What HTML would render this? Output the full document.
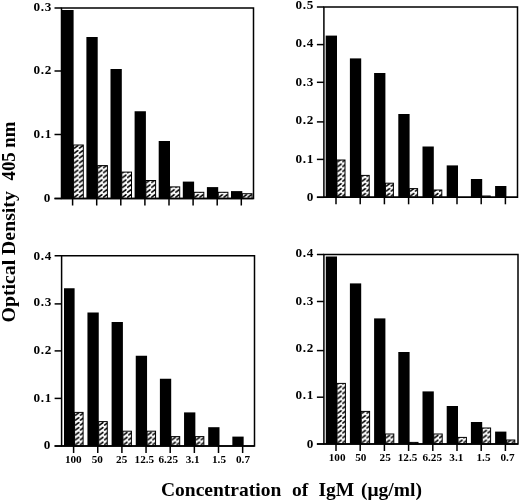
<!DOCTYPE html>
<html><head><meta charset="utf-8"><style>
html,body{margin:0;padding:0;background:#fff;}
body{width:520px;height:503px;overflow:hidden;}
svg{display:block;font-family:"Liberation Serif", serif;will-change:transform;}
</style></head><body>
<svg width="520" height="503" viewBox="0 0 520 503"><defs><pattern id="h1" patternUnits="userSpaceOnUse" x="73.8" y="198" width="5" height="4.9"><path d="M0.7 4.0 L3.9 1.5" stroke="#000" stroke-width="1.6" stroke-linecap="round"/></pattern><pattern id="h2" patternUnits="userSpaceOnUse" x="97.9" y="198" width="5" height="4.9"><path d="M0.7 4.0 L3.9 1.5" stroke="#000" stroke-width="1.6" stroke-linecap="round"/></pattern><pattern id="h3" patternUnits="userSpaceOnUse" x="122" y="198" width="5" height="4.9"><path d="M0.7 4.0 L3.9 1.5" stroke="#000" stroke-width="1.6" stroke-linecap="round"/></pattern><pattern id="h4" patternUnits="userSpaceOnUse" x="146.1" y="198" width="5" height="4.9"><path d="M0.7 4.0 L3.9 1.5" stroke="#000" stroke-width="1.6" stroke-linecap="round"/></pattern><pattern id="h5" patternUnits="userSpaceOnUse" x="170.2" y="198" width="5" height="4.9"><path d="M0.7 4.0 L3.9 1.5" stroke="#000" stroke-width="1.6" stroke-linecap="round"/></pattern><pattern id="h6" patternUnits="userSpaceOnUse" x="194.3" y="198" width="5" height="4.9"><path d="M0.7 4.0 L3.9 1.5" stroke="#000" stroke-width="1.6" stroke-linecap="round"/></pattern><pattern id="h7" patternUnits="userSpaceOnUse" x="218.4" y="198" width="5" height="4.9"><path d="M0.7 4.0 L3.9 1.5" stroke="#000" stroke-width="1.6" stroke-linecap="round"/></pattern><pattern id="h8" patternUnits="userSpaceOnUse" x="242.5" y="198" width="5" height="4.9"><path d="M0.7 4.0 L3.9 1.5" stroke="#000" stroke-width="1.6" stroke-linecap="round"/></pattern><pattern id="h9" patternUnits="userSpaceOnUse" x="337.2" y="196.8" width="5" height="4.9"><path d="M0.7 4.0 L3.9 1.5" stroke="#000" stroke-width="1.6" stroke-linecap="round"/></pattern><pattern id="h10" patternUnits="userSpaceOnUse" x="361.4" y="196.8" width="5" height="4.9"><path d="M0.7 4.0 L3.9 1.5" stroke="#000" stroke-width="1.6" stroke-linecap="round"/></pattern><pattern id="h11" patternUnits="userSpaceOnUse" x="385.6" y="196.8" width="5" height="4.9"><path d="M0.7 4.0 L3.9 1.5" stroke="#000" stroke-width="1.6" stroke-linecap="round"/></pattern><pattern id="h12" patternUnits="userSpaceOnUse" x="409.8" y="196.8" width="5" height="4.9"><path d="M0.7 4.0 L3.9 1.5" stroke="#000" stroke-width="1.6" stroke-linecap="round"/></pattern><pattern id="h13" patternUnits="userSpaceOnUse" x="434" y="196.8" width="5" height="4.9"><path d="M0.7 4.0 L3.9 1.5" stroke="#000" stroke-width="1.6" stroke-linecap="round"/></pattern><pattern id="h14" patternUnits="userSpaceOnUse" x="482.4" y="196.8" width="5" height="4.9"><path d="M0.7 4.0 L3.9 1.5" stroke="#000" stroke-width="1.6" stroke-linecap="round"/></pattern><pattern id="h15" patternUnits="userSpaceOnUse" x="74.8" y="445.5" width="5" height="4.9"><path d="M0.7 4.0 L3.9 1.5" stroke="#000" stroke-width="1.6" stroke-linecap="round"/></pattern><pattern id="h16" patternUnits="userSpaceOnUse" x="98.95" y="445.5" width="5" height="4.9"><path d="M0.7 4.0 L3.9 1.5" stroke="#000" stroke-width="1.6" stroke-linecap="round"/></pattern><pattern id="h17" patternUnits="userSpaceOnUse" x="123.1" y="445.5" width="5" height="4.9"><path d="M0.7 4.0 L3.9 1.5" stroke="#000" stroke-width="1.6" stroke-linecap="round"/></pattern><pattern id="h18" patternUnits="userSpaceOnUse" x="147.25" y="445.5" width="5" height="4.9"><path d="M0.7 4.0 L3.9 1.5" stroke="#000" stroke-width="1.6" stroke-linecap="round"/></pattern><pattern id="h19" patternUnits="userSpaceOnUse" x="171.4" y="445.5" width="5" height="4.9"><path d="M0.7 4.0 L3.9 1.5" stroke="#000" stroke-width="1.6" stroke-linecap="round"/></pattern><pattern id="h20" patternUnits="userSpaceOnUse" x="195.55" y="445.5" width="5" height="4.9"><path d="M0.7 4.0 L3.9 1.5" stroke="#000" stroke-width="1.6" stroke-linecap="round"/></pattern><pattern id="h21" patternUnits="userSpaceOnUse" x="337.2" y="443.5" width="5" height="4.9"><path d="M0.7 4.0 L3.9 1.5" stroke="#000" stroke-width="1.6" stroke-linecap="round"/></pattern><pattern id="h22" patternUnits="userSpaceOnUse" x="361.4" y="443.5" width="5" height="4.9"><path d="M0.7 4.0 L3.9 1.5" stroke="#000" stroke-width="1.6" stroke-linecap="round"/></pattern><pattern id="h23" patternUnits="userSpaceOnUse" x="385.6" y="443.5" width="5" height="4.9"><path d="M0.7 4.0 L3.9 1.5" stroke="#000" stroke-width="1.6" stroke-linecap="round"/></pattern><pattern id="h24" patternUnits="userSpaceOnUse" x="409.8" y="443.5" width="5" height="4.9"><path d="M0.7 4.0 L3.9 1.5" stroke="#000" stroke-width="1.6" stroke-linecap="round"/></pattern><pattern id="h25" patternUnits="userSpaceOnUse" x="434" y="443.5" width="5" height="4.9"><path d="M0.7 4.0 L3.9 1.5" stroke="#000" stroke-width="1.6" stroke-linecap="round"/></pattern><pattern id="h26" patternUnits="userSpaceOnUse" x="458.2" y="443.5" width="5" height="4.9"><path d="M0.7 4.0 L3.9 1.5" stroke="#000" stroke-width="1.6" stroke-linecap="round"/></pattern><pattern id="h27" patternUnits="userSpaceOnUse" x="482.4" y="443.5" width="5" height="4.9"><path d="M0.7 4.0 L3.9 1.5" stroke="#000" stroke-width="1.6" stroke-linecap="round"/></pattern><pattern id="h28" patternUnits="userSpaceOnUse" x="506.6" y="443.5" width="5" height="4.9"><path d="M0.7 4.0 L3.9 1.5" stroke="#000" stroke-width="1.6" stroke-linecap="round"/></pattern></defs><rect width="520" height="503" fill="#fff"/><g><rect x="61" y="10" width="12.6" height="188.5" fill="#000"/><rect x="73.6" y="145" width="9.7" height="53.5" fill="url(#h1)" stroke="#000" stroke-width="1"/><rect x="86.4" y="37" width="11.3" height="161.5" fill="#000"/><rect x="97.7" y="165.6" width="9.7" height="32.9" fill="url(#h2)" stroke="#000" stroke-width="1"/><rect x="110.5" y="69" width="11.3" height="129.5" fill="#000"/><rect x="121.8" y="172.1" width="9.7" height="26.4" fill="url(#h3)" stroke="#000" stroke-width="1"/><rect x="134.6" y="111.25" width="11.3" height="87.25" fill="#000"/><rect x="145.9" y="180.5" width="9.7" height="18" fill="url(#h4)" stroke="#000" stroke-width="1"/><rect x="158.7" y="141" width="11.3" height="57.5" fill="#000"/><rect x="170" y="186.9" width="9.7" height="11.6" fill="url(#h5)" stroke="#000" stroke-width="1"/><rect x="182.8" y="181.6" width="11.3" height="16.9" fill="#000"/><rect x="194.1" y="192.3" width="9.7" height="6.2" fill="url(#h6)" stroke="#000" stroke-width="1"/><rect x="206.9" y="187.1" width="11.3" height="11.4" fill="#000"/><rect x="218.2" y="192.3" width="9.7" height="6.2" fill="url(#h7)" stroke="#000" stroke-width="1"/><rect x="231" y="191.1" width="11.3" height="7.4" fill="#000"/><rect x="242.3" y="193.7" width="9.7" height="4.8" fill="url(#h8)" stroke="#000" stroke-width="1"/><path d="M61.5 198.5 V8 H253.5 V198.5 Z" fill="none" stroke="#000" stroke-width="1.5"/><path d="M54.5 198.5 H253.5" stroke="#000" stroke-width="1.6"/><path d="M54.5 198.5 H61.5" stroke="#000" stroke-width="1.5"/><text x="51" y="201.9" text-anchor="end" font-size="13.2" font-weight="bold" letter-spacing="0.7">0</text><path d="M54.5 134.5 H61.5" stroke="#000" stroke-width="1.5"/><text x="52" y="138.4" text-anchor="end" font-size="13.2" font-weight="bold" letter-spacing="0.7">0.1</text><path d="M54.5 71 H61.5" stroke="#000" stroke-width="1.5"/><text x="52" y="73.5" text-anchor="end" font-size="13.2" font-weight="bold" letter-spacing="0.7">0.2</text><path d="M54.5 8 H61.5" stroke="#000" stroke-width="1.5"/><text x="52" y="10.5" text-anchor="end" font-size="13.2" font-weight="bold" letter-spacing="0.7">0.3</text><path d="M72.6 198.5 V205.5" stroke="#000" stroke-width="1.5"/><path d="M96.7 198.5 V205.5" stroke="#000" stroke-width="1.5"/><path d="M120.8 198.5 V205.5" stroke="#000" stroke-width="1.5"/><path d="M144.9 198.5 V205.5" stroke="#000" stroke-width="1.5"/><path d="M169 198.5 V205.5" stroke="#000" stroke-width="1.5"/><path d="M193.1 198.5 V205.5" stroke="#000" stroke-width="1.5"/><path d="M217.2 198.5 V205.5" stroke="#000" stroke-width="1.5"/><path d="M241.3 198.5 V205.5" stroke="#000" stroke-width="1.5"/></g><g><rect x="325.7" y="35.6" width="11.3" height="161.7" fill="#000"/><rect x="337" y="160" width="8" height="37.3" fill="url(#h9)" stroke="#000" stroke-width="1"/><rect x="349.9" y="58.4" width="11.3" height="138.9" fill="#000"/><rect x="361.2" y="175.4" width="8" height="21.9" fill="url(#h10)" stroke="#000" stroke-width="1"/><rect x="374.1" y="73" width="11.3" height="124.3" fill="#000"/><rect x="385.4" y="183.2" width="8" height="14.1" fill="url(#h11)" stroke="#000" stroke-width="1"/><rect x="398.3" y="114" width="11.3" height="83.3" fill="#000"/><rect x="409.6" y="188.6" width="8" height="8.7" fill="url(#h12)" stroke="#000" stroke-width="1"/><rect x="422.5" y="146.5" width="11.3" height="50.8" fill="#000"/><rect x="433.8" y="190" width="8" height="7.3" fill="url(#h13)" stroke="#000" stroke-width="1"/><rect x="446.7" y="165.4" width="11.3" height="31.9" fill="#000"/><rect x="470.9" y="179" width="11.3" height="18.3" fill="#000"/><rect x="482.2" y="196" width="8" height="1.3" fill="url(#h14)" stroke="#000" stroke-width="1"/><rect x="495.1" y="186" width="11.3" height="11.3" fill="#000"/><path d="M323.9 197.3 V7 H517.5 V197.3 Z" fill="none" stroke="#000" stroke-width="1.5"/><path d="M316.9 197.3 H517.5" stroke="#000" stroke-width="1.6"/><path d="M316.9 197.3 H323.9" stroke="#000" stroke-width="1.5"/><text x="314" y="201.1" text-anchor="end" font-size="13.2" font-weight="bold" letter-spacing="0.7">0</text><path d="M316.9 159.4 H323.9" stroke="#000" stroke-width="1.5"/><text x="314" y="163.3" text-anchor="end" font-size="13.2" font-weight="bold" letter-spacing="0.7">0.1</text><path d="M316.9 121.9 H323.9" stroke="#000" stroke-width="1.5"/><text x="314" y="124.25" text-anchor="end" font-size="13.2" font-weight="bold" letter-spacing="0.7">0.2</text><path d="M316.9 82.3 H323.9" stroke="#000" stroke-width="1.5"/><text x="314" y="85.85" text-anchor="end" font-size="13.2" font-weight="bold" letter-spacing="0.7">0.3</text><path d="M316.9 44.6 H323.9" stroke="#000" stroke-width="1.5"/><text x="314" y="47.25" text-anchor="end" font-size="13.2" font-weight="bold" letter-spacing="0.7">0.4</text><path d="M316.9 7 H323.9" stroke="#000" stroke-width="1.5"/><text x="314" y="9.25" text-anchor="end" font-size="13.2" font-weight="bold" letter-spacing="0.7">0.5</text><path d="M336 197.3 V204.3" stroke="#000" stroke-width="1.5"/><path d="M360.2 197.3 V204.3" stroke="#000" stroke-width="1.5"/><path d="M384.4 197.3 V204.3" stroke="#000" stroke-width="1.5"/><path d="M408.6 197.3 V204.3" stroke="#000" stroke-width="1.5"/><path d="M432.8 197.3 V204.3" stroke="#000" stroke-width="1.5"/><path d="M457 197.3 V204.3" stroke="#000" stroke-width="1.5"/><path d="M481.2 197.3 V204.3" stroke="#000" stroke-width="1.5"/><path d="M505.4 197.3 V204.3" stroke="#000" stroke-width="1.5"/></g><g><rect x="64" y="288.25" width="10.6" height="157.75" fill="#000"/><rect x="74.6" y="412.4" width="8.5" height="33.6" fill="url(#h15)" stroke="#000" stroke-width="1"/><rect x="87.45" y="312.5" width="11.3" height="133.5" fill="#000"/><rect x="98.75" y="421.6" width="8.5" height="24.4" fill="url(#h16)" stroke="#000" stroke-width="1"/><rect x="111.6" y="322" width="11.3" height="124" fill="#000"/><rect x="122.9" y="431.2" width="8.5" height="14.8" fill="url(#h17)" stroke="#000" stroke-width="1"/><rect x="135.75" y="355.75" width="11.3" height="90.25" fill="#000"/><rect x="147.05" y="431.2" width="8.5" height="14.8" fill="url(#h18)" stroke="#000" stroke-width="1"/><rect x="159.9" y="378.75" width="11.3" height="67.25" fill="#000"/><rect x="171.2" y="436.6" width="8.5" height="9.4" fill="url(#h19)" stroke="#000" stroke-width="1"/><rect x="184.05" y="412.4" width="11.3" height="33.6" fill="#000"/><rect x="195.35" y="436.6" width="8.5" height="9.4" fill="url(#h20)" stroke="#000" stroke-width="1"/><rect x="208.2" y="427.2" width="11.3" height="18.8" fill="#000"/><rect x="232.35" y="436.6" width="11.3" height="9.4" fill="#000"/><path d="M61.6 446 V255.75 H254.5 V446 Z" fill="none" stroke="#000" stroke-width="1.5"/><path d="M54.6 446 H254.5" stroke="#000" stroke-width="1.6"/><path d="M54.6 446 H61.6" stroke="#000" stroke-width="1.5"/><text x="51" y="448.5" text-anchor="end" font-size="13.2" font-weight="bold" letter-spacing="0.7">0</text><path d="M54.6 398.4 H61.6" stroke="#000" stroke-width="1.5"/><text x="52" y="401.7" text-anchor="end" font-size="13.2" font-weight="bold" letter-spacing="0.7">0.1</text><path d="M54.6 350.9 H61.6" stroke="#000" stroke-width="1.5"/><text x="52" y="354.45" text-anchor="end" font-size="13.2" font-weight="bold" letter-spacing="0.7">0.2</text><path d="M54.6 303.9 H61.6" stroke="#000" stroke-width="1.5"/><text x="52" y="306.1" text-anchor="end" font-size="13.2" font-weight="bold" letter-spacing="0.7">0.3</text><path d="M54.6 255.75 H61.6" stroke="#000" stroke-width="1.5"/><text x="52" y="259.5" text-anchor="end" font-size="13.2" font-weight="bold" letter-spacing="0.7">0.4</text><path d="M73.6 446 V453" stroke="#000" stroke-width="1.5"/><text x="73.3" y="463" text-anchor="middle" font-size="11.2" font-weight="bold">100</text><path d="M97.75 446 V453" stroke="#000" stroke-width="1.5"/><text x="97.3" y="463" text-anchor="middle" font-size="11.2" font-weight="bold">50</text><path d="M121.9 446 V453" stroke="#000" stroke-width="1.5"/><text x="121.7" y="463" text-anchor="middle" font-size="11.2" font-weight="bold">25</text><path d="M146.05 446 V453" stroke="#000" stroke-width="1.5"/><text x="144.4" y="463" text-anchor="middle" font-size="11.2" font-weight="bold">12.5</text><path d="M170.2 446 V453" stroke="#000" stroke-width="1.5"/><text x="168.2" y="463" text-anchor="middle" font-size="11.2" font-weight="bold">6.25</text><path d="M194.35 446 V453" stroke="#000" stroke-width="1.5"/><text x="192.7" y="463" text-anchor="middle" font-size="11.2" font-weight="bold">3.1</text><path d="M218.5 446 V453" stroke="#000" stroke-width="1.5"/><text x="219" y="463" text-anchor="middle" font-size="11.2" font-weight="bold">1.5</text><path d="M242.65 446 V453" stroke="#000" stroke-width="1.5"/><text x="243" y="463" text-anchor="middle" font-size="11.2" font-weight="bold">0.7</text></g><g><rect x="325.8" y="256.5" width="11.2" height="187.5" fill="#000"/><rect x="337" y="383.4" width="8.4" height="60.6" fill="url(#h21)" stroke="#000" stroke-width="1"/><rect x="349.9" y="283.4" width="11.3" height="160.6" fill="#000"/><rect x="361.2" y="411.4" width="8.4" height="32.6" fill="url(#h22)" stroke="#000" stroke-width="1"/><rect x="374.1" y="318.4" width="11.3" height="125.6" fill="#000"/><rect x="385.4" y="434" width="8.4" height="10" fill="url(#h23)" stroke="#000" stroke-width="1"/><rect x="398.3" y="352" width="11.3" height="92" fill="#000"/><rect x="409.6" y="442.4" width="8.4" height="1.6" fill="url(#h24)" stroke="#000" stroke-width="1"/><rect x="422.5" y="391.4" width="11.3" height="52.6" fill="#000"/><rect x="433.8" y="434" width="8.4" height="10" fill="url(#h25)" stroke="#000" stroke-width="1"/><rect x="446.7" y="406" width="11.3" height="38" fill="#000"/><rect x="458" y="437.4" width="8.4" height="6.6" fill="url(#h26)" stroke="#000" stroke-width="1"/><rect x="470.9" y="422" width="11.3" height="22" fill="#000"/><rect x="482.2" y="428" width="8.4" height="16" fill="url(#h27)" stroke="#000" stroke-width="1"/><rect x="495.1" y="431.6" width="11.3" height="12.4" fill="#000"/><rect x="506.4" y="440" width="8.4" height="4" fill="url(#h28)" stroke="#000" stroke-width="1"/><path d="M323.9 444 V254.5 H518 V444 Z" fill="none" stroke="#000" stroke-width="1.5"/><path d="M316.9 444 H518" stroke="#000" stroke-width="1.6"/><path d="M316.9 444 H323.9" stroke="#000" stroke-width="1.5"/><text x="314" y="447.75" text-anchor="end" font-size="13.2" font-weight="bold" letter-spacing="0.7">0</text><path d="M316.9 397.2 H323.9" stroke="#000" stroke-width="1.5"/><text x="314" y="399.35" text-anchor="end" font-size="13.2" font-weight="bold" letter-spacing="0.7">0.1</text><path d="M316.9 350.6 H323.9" stroke="#000" stroke-width="1.5"/><text x="314" y="352.35" text-anchor="end" font-size="13.2" font-weight="bold" letter-spacing="0.7">0.2</text><path d="M316.9 301.5 H323.9" stroke="#000" stroke-width="1.5"/><text x="314" y="305" text-anchor="end" font-size="13.2" font-weight="bold" letter-spacing="0.7">0.3</text><path d="M316.9 254.5 H323.9" stroke="#000" stroke-width="1.5"/><text x="314" y="256.75" text-anchor="end" font-size="13.2" font-weight="bold" letter-spacing="0.7">0.4</text><path d="M336 444 V451" stroke="#000" stroke-width="1.5"/><text x="337.1" y="461" text-anchor="middle" font-size="11.2" font-weight="bold">100</text><path d="M360.2 444 V451" stroke="#000" stroke-width="1.5"/><text x="360.8" y="461" text-anchor="middle" font-size="11.2" font-weight="bold">50</text><path d="M384.4 444 V451" stroke="#000" stroke-width="1.5"/><text x="385.2" y="461" text-anchor="middle" font-size="11.2" font-weight="bold">25</text><path d="M408.6 444 V451" stroke="#000" stroke-width="1.5"/><text x="407.5" y="461" text-anchor="middle" font-size="11.2" font-weight="bold">12.5</text><path d="M432.8 444 V451" stroke="#000" stroke-width="1.5"/><text x="432.2" y="461" text-anchor="middle" font-size="11.2" font-weight="bold">6.25</text><path d="M457 444 V451" stroke="#000" stroke-width="1.5"/><text x="456.3" y="461" text-anchor="middle" font-size="11.2" font-weight="bold">3.1</text><path d="M481.2 444 V451" stroke="#000" stroke-width="1.5"/><text x="483.5" y="461" text-anchor="middle" font-size="11.2" font-weight="bold">1.5</text><path d="M505.4 444 V451" stroke="#000" stroke-width="1.5"/><text x="507.5" y="461" text-anchor="middle" font-size="11.2" font-weight="bold">0.7</text></g><text transform="translate(15.2,322.5) rotate(-90)" font-size="19.8" font-weight="bold">Optical Density</text><text transform="translate(15.2,180.5) rotate(-90)" font-size="18.8" font-weight="bold">405 nm</text><text x="161" y="496" font-size="19.5" font-weight="bold">Concentration</text><text x="292" y="496" font-size="19.5" font-weight="bold">of</text><text x="318.5" y="496" font-size="19.5" font-weight="bold">IgM</text><text x="361" y="496" font-size="19.5" font-weight="bold">(μg/ml)</text></svg>
</body></html>
